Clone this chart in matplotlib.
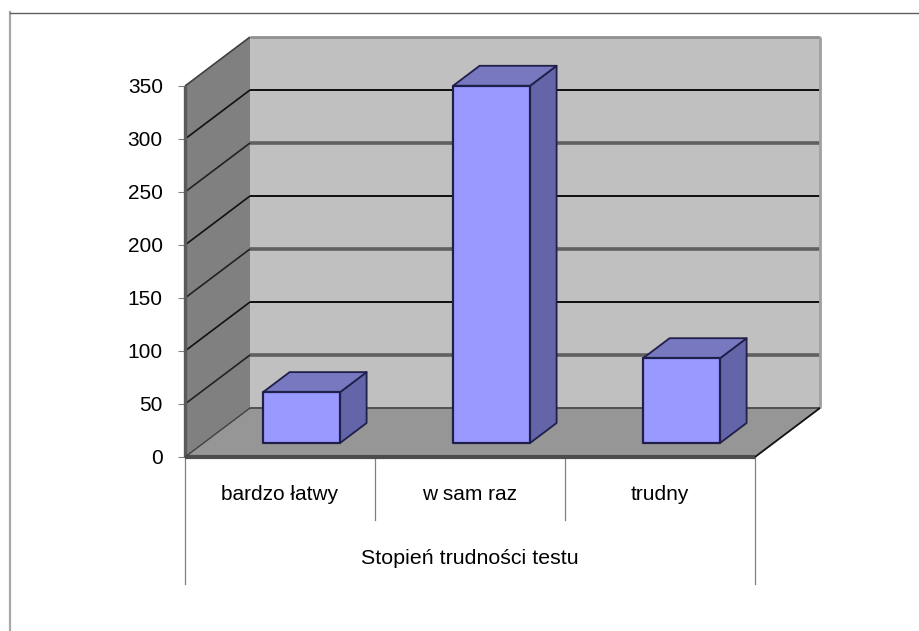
"""
Oblique 3D bar chart of the test difficulty ratings.
"""

import matplotlib
matplotlib.use("Agg")
import matplotlib.pyplot as plt
from matplotlib.patches import Polygon

categories = ["bardzo łatwy", "w sam raz", "trudny"]
values = [48, 337, 80]
y_ticks = [0, 50, 100, 150, 200, 250, 300, 350]
black_grid = [100, 200, 300]
gray_grid = [50, 150, 250]
x_title = "Stopień trudności testu"

W, H = 920, 631
LEFT, RIGHT, TOP, BOTTOM = 185, 755, 86, 457
UNIT_X = (RIGHT - LEFT) / 3
UNIT_Y = (BOTTOM - TOP) / 350
DEPTH_X = 65 / UNIT_X
DEPTH_Y = 49 / UNIT_Y

plt.rcParams["font.family"] = ["Liberation Sans", "DejaVu Sans"]


def proj(x, y, d=0.0):
    """Map category x, value y and depth d (0 front, 1 back) onto the axes."""
    return x + d * DEPTH_X, y + d * DEPTH_Y


def face(ax, pts, color, edge="none", lw=0, z=1):
    ax.add_patch(Polygon([proj(*p) for p in pts], closed=True, facecolor=color,
                         edgecolor=edge, linewidth=lw, joinstyle="round",
                         clip_on=False, zorder=z))


def line(ax, a, b, color, lw, z=2):
    pa, pb = proj(*a), proj(*b)
    ax.plot([pa[0], pb[0]], [pa[1], pb[1]], color=color, lw=lw, clip_on=False,
            solid_capstyle="butt", zorder=z)


fig = plt.figure(figsize=(W / 100, H / 100), dpi=100, facecolor="white")
ax = fig.add_axes([LEFT / W, 1 - BOTTOM / H, (RIGHT - LEFT) / W, (BOTTOM - TOP) / H])
ax.set_xlim(0, 3)
ax.set_ylim(0, 350)
ax.patch.set_visible(False)
for s in ax.spines.values():
    s.set_visible(False)

# chart frame, open on the right and bottom like the source
fig.add_artist(plt.Line2D([10.5 / W, 10.5 / W], [0, 1 - 12 / H], color="#a8a8a8", lw=1.6))
fig.add_artist(plt.Line2D([10 / W, 1], [1 - 12.5 / H, 1 - 12.5 / H], color="#606060", lw=1))

# walls and floor
face(ax, [(0, 0, 1), (3, 0, 1), (3, 350, 1), (0, 350, 1)], "#c0c0c0")
face(ax, [(0, 0, 0), (0, 0, 1), (0, 350, 1), (0, 350, 0)], "#808080")
face(ax, [(0, 0, 0), (3, 0, 0), (3, 0, 1), (0, 0, 1)], "#969696")

for v in black_grid:
    line(ax, (0, v, 1), (3, v, 1), "#000000", 1.3)
    line(ax, (0, v, 0), (0, v, 1), "#111111", 1.2)
for v in gray_grid:
    line(ax, (0, v, 1), (3, v, 1), "#606060", 2.6)
    line(ax, (0, v, 0), (0, v, 1), "#222222", 1.2)

line(ax, (0, 350, 1), (3, 350, 1), "#909090", 2.0)
line(ax, (3, 0, 1), (3, 350, 1), "#a0a0a0", 2.0)
line(ax, (0, 350, 0), (0, 350, 1), "#404040", 1.2)
line(ax, (0, 0, 1), (3, 0, 1), "#505050", 1.4)
line(ax, (0, 0, 0), (3, 0, 0), "#4c4c4c", 3.0)
line(ax, (0, 0, 0), (0, 350, 0), "#5a5a5a", 2.4)
line(ax, (0, 0, 0), (0, 0, 1), "#404040", 1.0)
line(ax, (3, 0, 0), (3, 0, 1), "#111111", 1.3)

# bars
bar_w = 77 / UNIT_X
bar_shift = 3 / UNIT_X
d0, d1 = 14 / 49, 34 / 49
edge = "#1f1f4a"
for i, v in enumerate(values):
    x0 = i + 0.5 - bar_w / 2 + bar_shift
    x1 = x0 + bar_w
    face(ax, [(x1, 0, d0), (x1, 0, d1), (x1, v, d1), (x1, v, d0)], "#6464a8", edge, 1.3, 4)
    face(ax, [(x0, v, d0), (x1, v, d0), (x1, v, d1), (x0, v, d1)], "#7878c0", edge, 1.3, 4)
    face(ax, [(x0, 0, d0), (x1, 0, d0), (x1, v, d0), (x0, v, d0)], "#9999ff", edge, 1.6, 5)

# axes text and dividers
ax.set_yticks(y_ticks)
ax.set_xticks([0.5, 1.5, 2.5])
ax.set_xticklabels(categories)
ax.tick_params(axis="y", length=5, width=0.8, color="#808080", labelsize=15, pad=11)
ax.tick_params(axis="x", length=0, labelsize=15, pad=20)

for x, drop in zip([0, 1, 2, 3], [127, 63, 63, 127]):
    ax.plot([x, x], [0, -drop / UNIT_Y], color="#808080", lw=0.9, clip_on=False, zorder=1)
ax.text(1.5, -101 / UNIT_Y, x_title, ha="center", va="center", fontsize=15.4)

plt.savefig("out.png", dpi=100)
plt.close()
